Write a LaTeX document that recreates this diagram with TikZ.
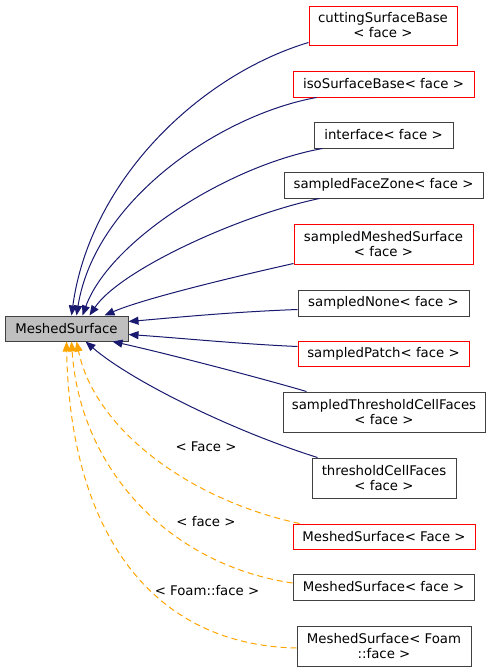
\documentclass[tikz,border=0pt]{standalone}
\usepackage{fontspec}
\setmainfont{DejaVu Sans}
\usetikzlibrary{arrows.meta,calc}
\definecolor{boxgray}{HTML}{404040}
\definecolor{edgeblue}{HTML}{191970}
\definecolor{edgeorange}{HTML}{FFA500}
\definecolor{fillgray}{HTML}{BFBFBF}
\tikzset{
  cls/.style={draw=boxgray, line width=1pt, inner sep=0pt, align=center,
    font=\fontsize{13.3}{15}\selectfont, fill=white},
  redcls/.style={cls, draw=red},
  inh/.style={draw=edgeblue, line width=1pt, -{Triangle[length=10pt,width=8pt,fill=edgeblue]}},
  tmpl/.style={draw=edgeorange, line width=1pt, dash pattern=on 6pt off 4pt,
    -{Triangle[length=10pt,width=8pt,fill=edgeorange]}},
  lbl/.style={font=\fontsize{13.3}{15}\selectfont, inner sep=0pt}
}
\begin{document}
\begin{tikzpicture}[x=1pt,y=-1pt]
\useasboundingbox (0,0) rectangle (491,672);
% nodes
\node[cls, fill=fillgray, minimum width=123pt, minimum height=25pt] (ms) at (66.5,328.5) {MeshedSurface};
\node[redcls, minimum width=148pt, minimum height=39pt] (cut) at (383,25.5) {cuttingSurfaceBase\\< face >};
\node[redcls, minimum width=181pt, minimum height=26pt] (iso) at (383.5,84) {isoSurfaceBase< face >};
\node[cls, minimum width=139pt, minimum height=26pt] (intf) at (383.5,135) {interface< face >};
\node[cls, minimum width=199pt, minimum height=26pt] (fz) at (383.5,185) {sampledFaceZone< face >};
\node[redcls, minimum width=179pt, minimum height=40pt] (sms) at (383.5,244) {sampledMeshedSurface\\< face >};
\node[cls, minimum width=171pt, minimum height=26pt] (none) at (383.5,303) {sampledNone< face >};
\node[redcls, minimum width=171pt, minimum height=25pt] (patch) at (383.5,353.5) {sampledPatch< face >};
\node[cls, minimum width=202pt, minimum height=40pt] (stcf) at (384,412) {sampledThresholdCellFaces\\< face >};
\node[cls, minimum width=144pt, minimum height=40pt] (tcf) at (384,478) {thresholdCellFaces\\< face >};
\node[redcls, minimum width=182pt, minimum height=25pt] (msF) at (384,536.5) {MeshedSurface< Face >};
\node[cls, minimum width=181pt, minimum height=26pt] (msf) at (383.5,587) {MeshedSurface< face >};
\node[cls, minimum width=174pt, minimum height=40pt] (msFoam) at (384,646) {MeshedSurface< Foam\\::face >};
% inheritance edges
\draw[inh] ($(cut.south west)+(0,-3)$) .. controls (200,75) and (90,180) .. ($(ms.north west)+(67,0)$);
\draw[inh] ($(iso.south west)+(24,0)$) .. controls (220,115) and (95,200) .. ($(ms.north west)+(72,0)$);
\draw[inh] ($(intf.south west)+(9,0)$) .. controls (230,165) and (110,240) .. ($(ms.north west)+(78,0)$);
\draw[inh] ($(fz.south west)+(36,0)$) .. controls (240,215) and (120,270) .. ($(ms.north west)+(85,0)$);
\draw[inh] ($(sms.south west)+(0,-1)$) .. controls (220,280) and (140,300) .. ($(ms.north west)+(100,0)$);
\draw[inh] ($(none.south west)+(0,-7)$) .. controls (230,312) and (170,318) .. ($(ms.north east)+(0,6)$);
\draw[inh] ($(patch.north west)+(0,6)$) .. controls (240,344) and (180,338) .. ($(ms.north east)+(0,19)$);
\draw[inh] ($(stcf.north west)+(24,0)$) .. controls (250,375) and (160,352) .. ($(ms.south west)+(108,0)$);
\draw[inh] ($(tcf.north west)+(6,0)$) .. controls (230,430) and (130,380) .. ($(ms.south west)+(81,0)$);
% template edges
\draw[tmpl] ($(msF.north west)+(7,0)$) .. controls (190,500) and (95,430) .. ($(ms.south west)+(72,0)$);
\draw[tmpl] ($(msf.west)+(0,-4)$) .. controls (170,565) and (80,470) .. ($(ms.south west)+(67,0)$);
\draw[tmpl] ($(msFoam.west)+(0,2)$) .. controls (150,645) and (70,530) .. ($(ms.south west)+(62,0)$);
\node[lbl] (l1) at (206,447) {< Face >};
\node[lbl] (l2) at (206,522) {< face >};
\node[lbl] (l3) at (207,591) {< Foam::face >};
\end{tikzpicture}
\end{document}
